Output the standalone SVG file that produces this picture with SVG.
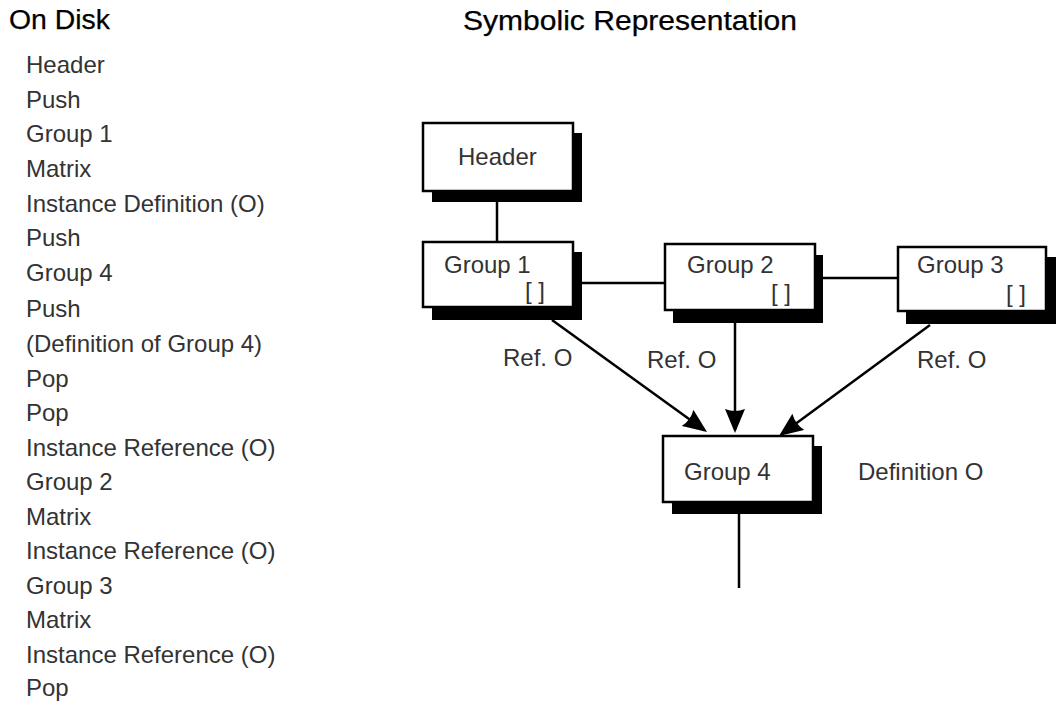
<svg xmlns="http://www.w3.org/2000/svg" width="1056" height="702" viewBox="0 0 1056 702">
<style>
.title{font-family:"Liberation Sans",Arial,sans-serif;font-size:27px;fill:#000;stroke:#000;stroke-width:0.25}
.t{font-family:"Liberation Sans",Arial,sans-serif;font-size:24px;fill:#333}
.box{fill:#fff;stroke:#000;stroke-width:2.5}
.sh{fill:#000}
.ln{stroke:#000;stroke-width:2.5;fill:none}
.ar{stroke:#000;stroke-width:2.5;fill:none;marker-end:url(#ah)}
</style>
<defs>
<marker id="ah" viewBox="0 0 24 20" refX="21" refY="10" markerWidth="24" markerHeight="20" markerUnits="userSpaceOnUse" orient="auto">
<path d="M0,0 L24,10 L0,20 Q4,10 0,0 z" fill="#000"/>
</marker>
</defs>
<rect width="1056" height="702" fill="#fff"/>
<text class="title" x="9" y="29" textLength="101" lengthAdjust="spacingAndGlyphs">On Disk</text>
<text class="title" x="463" y="30" textLength="334" lengthAdjust="spacingAndGlyphs">Symbolic Representation</text>
<g id="ondisk" class="t">
<text x="26" y="73">Header</text>
<text x="26" y="107.6">Push</text>
<text x="26" y="142.2">Group 1</text>
<text x="26" y="176.8">Matrix</text>
<text x="26" y="211.6">Instance Definition (O)</text>
<text x="26" y="246.4">Push</text>
<text x="26" y="281.2">Group 4</text>
<text x="26" y="316.6">Push</text>
<text x="26" y="352">(Definition of Group 4)</text>
<text x="26" y="386.5">Pop</text>
<text x="26" y="421">Pop</text>
<text x="26" y="455.5">Instance Reference (O)</text>
<text x="26" y="490">Group 2</text>
<text x="26" y="524.5">Matrix</text>
<text x="26" y="559">Instance Reference (O)</text>
<text x="26" y="593.5">Group 3</text>
<text x="26" y="628">Matrix</text>
<text x="26" y="662.5">Instance Reference (O)</text>
<text x="26" y="696">Pop</text>
</g>
<g id="connectors">
<line class="ln" x1="497" y1="202" x2="497" y2="242"/>
<line class="ln" x1="582" y1="283" x2="665" y2="283"/>
<line class="ln" x1="823" y1="278" x2="898" y2="278"/>
<line class="ar" x1="552" y1="320" x2="704.6" y2="430.2"/>
<line class="ar" x1="735" y1="323" x2="735" y2="430"/>
<line class="ar" x1="930" y1="325" x2="781.4" y2="434.2"/>
<line class="ln" x1="739" y1="514" x2="739" y2="588"/>
<text class="t" x="503" y="366">Ref. O</text>
<text class="t" x="647" y="368">Ref. O</text>
<text class="t" x="917" y="368">Ref. O</text>
</g>
<g id="header">
<rect class="sh" x="432" y="133" width="150" height="69"/>
<rect class="box" x="423" y="123" width="150" height="68"/>
<text class="t" x="458" y="165">Header</text>
</g>
<g id="group1">
<rect class="sh" x="432" y="252" width="150" height="68"/>
<rect class="box" x="423" y="242" width="150" height="65"/>
<text class="t" x="444" y="273">Group 1</text>
<text class="t" x="525" y="299">[ ]</text>
</g>
<g id="group2">
<rect class="sh" x="673" y="255" width="150" height="68"/>
<rect class="box" x="665" y="244" width="150" height="66"/>
<text class="t" x="687" y="273">Group 2</text>
<text class="t" x="771" y="301">[ ]</text>
</g>
<g id="group3">
<rect class="sh" x="906" y="257" width="150" height="67"/>
<rect class="box" x="898" y="247" width="148" height="64"/>
<text class="t" x="917" y="273">Group 3</text>
<text class="t" x="1006" y="302">[ ]</text>
</g>
<g id="group4">
<rect class="sh" x="672" y="446" width="150" height="68"/>
<rect class="box" x="663" y="436" width="150" height="66"/>
<text class="t" x="684" y="480">Group 4</text>
</g>
<text class="t" x="858" y="480">Definition O</text>
</svg>
